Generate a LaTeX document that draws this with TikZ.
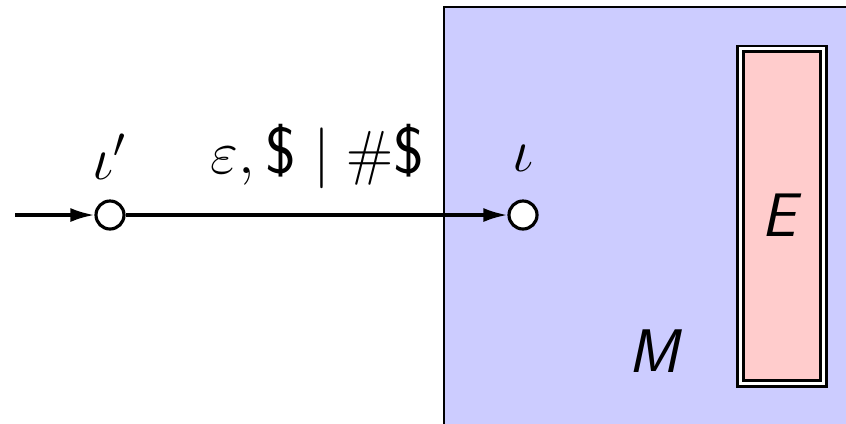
\documentclass[tikz,border=0pt]{standalone}
\usepackage{amsmath,amssymb}
\usetikzlibrary{arrows.meta,positioning}

\begin{document}
\begin{tikzpicture}[
    x=0.01cm, y=0.01cm,
    font=\fontsize{17.5}{21}\selectfont,
    stnode/.style={circle, draw, fill=white, line width=0.9pt, minimum size=0.28cm, inner sep=0pt},
    trans/.style={line width=0.9pt, -{Latex[length=2.4mm,width=1.4mm]}},
    lbl/.style={inner sep=0pt}
  ]
  \useasboundingbox (0,0) rectangle (846,423);
  \clip (0,0) rectangle (846,423);
  % machine M and its part E
  \draw[line width=0.7pt, fill=blue!20] (444,-20) rectangle (870,416);
  \draw[line width=0.75pt, double=white, double distance=0.85pt, fill=red!20]
    (740.5,39.5) rectangle (823.5,374.3);
  \node[lbl] (E) at (782,208) {\textsf{\textit{E}}};
  \node[lbl] (M) at (655,72) {\textsf{\textit{M}}};
  % states
  \coordinate (start) at (15,208);
  \node[stnode] (iota0) at (110,208) {};
  \node[stnode] (iota) at (523,208) {};
  \node[lbl, above=0.19cm of iota0] {$\iota'$};
  \node[lbl, above=0.27cm of iota] {$\iota$};
  \draw[trans] (start) -- (iota0);
  \draw[trans] (iota0) -- node[lbl, pos=0.503, above=0.25cm, font=\fontsize{18.7}{22}\selectfont]
    {$\varepsilon, \textsf{\$} \mid \#\textsf{\$}$} (iota);
\end{tikzpicture}
\end{document}
